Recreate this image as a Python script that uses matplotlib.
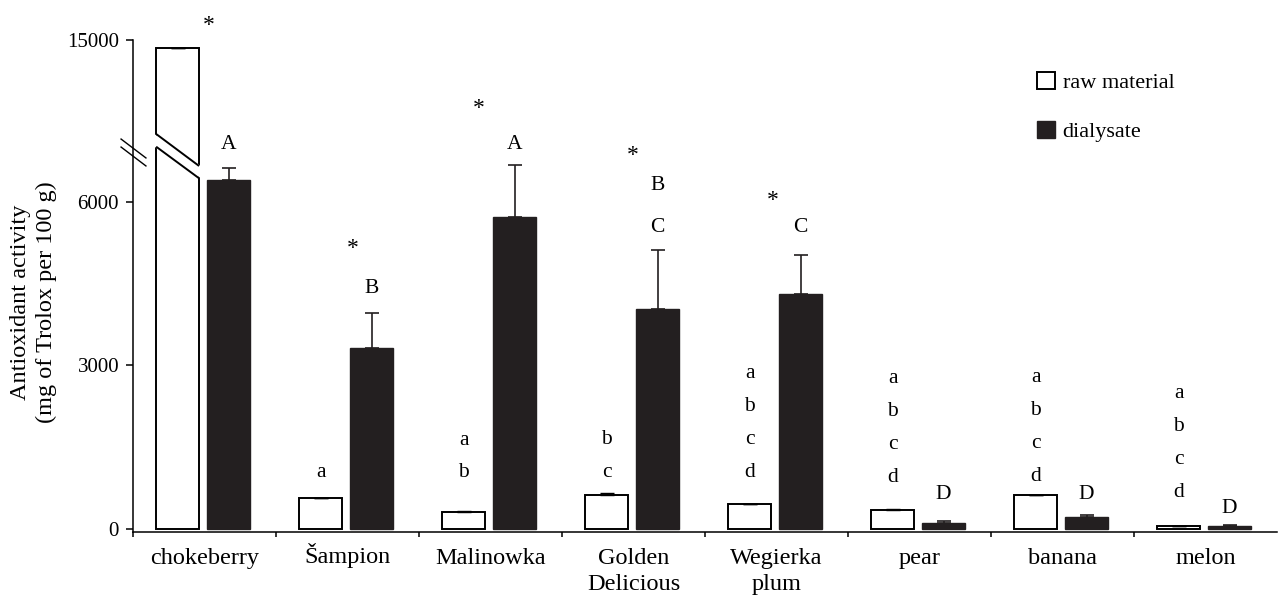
import matplotlib
matplotlib.use("Agg")
import matplotlib.pyplot as plt
from matplotlib.patches import Patch, Polygon
from matplotlib.path import Path
from matplotlib.transforms import ScaledTranslation
import numpy as np

plt.rcParams['font.family'] = ['Liberation Serif', 'DejaVu Serif']

# данные (мг тролокса на 100 г)
categories = ['chokeberry', 'Šampion', 'Malinowka', 'Golden\nDelicious',
              'Wegierka\nplum', 'pear', 'banana', 'melon']
raw = [14850, 560, 315, 620, 455, 345, 620, 50]
raw_err = [0, 15, 15, 36, 10, 22, 12, 8]
dial = [6407, 3327, 5719, 4042, 4317, 118, 222, 55]
dial_err = [220, 640, 960, 1077, 716, 30, 37, 10]

raw_letters = ['', 'a', 'ab', 'bc', 'abcd', 'abcd', 'abcd', 'abcd']
dial_letters = ['A', 'B', 'A', 'BC', 'C', 'D', 'D', 'D']
significant = [True, True, True, True, True, False, False, False]

# положения подписей (в единицах оси)
raw_letter_base = [0, 945, 945, 954, 954, 862, 880, 593]
dial_letter_base = [6967, 4325, 6967, 5455, 5455, 550, 550, 288]
star_y = [15166, 5046, 7620, 6752, 5927, 0, 0, 0]
star_dx = [0.031, 0.038, -0.080, -0.003, -0.024, 0, 0, 0]
raw_step, dial_step = 605, 765

# разрыв оси: 8000..14029 сжато
bx = [-1e4, 8000, 14029, 3e4]
by = [-1e4, 8000, 8001, 8001 + 3e4 - 14029]

def fwd(v):
  return np.interp(v, bx, by)

def inv(u):
  return np.interp(u, by, bx)

dark = '#231f20'

fig = plt.figure(figsize=(12.81, 5.98), dpi=100)
ax = fig.add_axes([133/1281, (598-531.5)/598, (1277-133)/1281, (531.5-10)/598])
ax.set_yscale('function', functions=(fwd, inv))

x = np.arange(len(categories))
w = 0.30
xr = x - 0.01 - 0.178
xd = x - 0.01 + 0.178

ax.bar(xr, raw, w, color='white', edgecolor='black', linewidth=1.4, zorder=2)
ax.bar(xd, dial, w, color=dark, edgecolor=dark, linewidth=1.0, zorder=2)
ax.errorbar(xr, raw, yerr=[np.zeros(len(raw)), raw_err], fmt='none',
            ecolor='black', elinewidth=1.0, capsize=4.7, capthick=1.0, zorder=4)
ax.errorbar(xd, dial, yerr=[np.zeros(len(dial)), dial_err], fmt='none',
            ecolor=dark, elinewidth=1.2, capsize=4.7, capthick=1.2, zorder=4)

# разрыв столбца chokeberry
lo = (7015, 6435)
hi = (7248, 6661)
l, r = xr[0] - w/2, xr[0] + w/2
e = 0.012
ax.add_patch(Polygon([(l - e, lo[0]), (r + e, lo[1]), (r + e, hi[1]), (l - e, hi[0])],
                     closed=True, facecolor='white', edgecolor='none', zorder=3))
ax.plot([l, r], [lo[0], lo[1]], color='black', lw=1.4, zorder=3.5, solid_capstyle='butt')
ax.plot([l, r], [hi[0], hi[1]], color='black', lw=1.4, zorder=3.5, solid_capstyle='butt')

# разрыв оси Y
brk = Path([(-1, 0.76), (1, -0.76)], [Path.MOVETO, Path.LINETO])
ax.plot([0, 0], [6999, 6853], linestyle='none', marker=brk, markersize=18.7,
        markeredgewidth=1.0, color='black', transform=ax.get_yaxis_transform(),
        clip_on=False, zorder=5)

# буквы и звездочки
for i in range(len(categories)):
  for k, ch in enumerate(reversed(raw_letters[i])):
    ax.text(xr[i], raw_letter_base[i] + k*raw_step, ch, ha='center', va='baseline',
            fontsize=15.5)
  for k, ch in enumerate(reversed(dial_letters[i])):
    ax.text(xd[i], dial_letter_base[i] + k*dial_step, ch, ha='center', va='baseline',
            fontsize=15.5)
  if significant[i]:
    ax.text(x[i] + star_dx[i], star_y[i], '*', ha='center', va='baseline',
            fontsize=17, clip_on=False)

ax.set_xlim(-0.5, 7.5)
ax.set_ylim(-46, 15551)
ax.set_yticks([0, 3000, 6000, 15000])
ax.set_yticklabels(['0', '3000', '6000', '15000'])
ax.set_xticks(x)
ax.set_xticklabels(categories, linespacing=1.3)
ax.set_xticks(np.arange(-0.5, 7.0, 1.0), minor=True)
ax.tick_params(axis='x', which='major', length=0, pad=12, labelsize=17.5)
ax.tick_params(axis='x', which='minor', direction='out', length=3.5, width=1.1)
ax.tick_params(axis='y', direction='out', length=5, width=1.1, pad=5, labelsize=15)

# Š выше строки — поднимаем подпись, чтобы базовая линия совпадала
lab = ax.get_xticklabels()[1]
lab.set_transform(lab.get_transform() + ScaledTranslation(0, 3.6/72, fig.dpi_scale_trans))

for s in ['top', 'right']:
  ax.spines[s].set_visible(False)
ax.spines['left'].set_bounds(-46, 15000)
ax.spines['left'].set_linewidth(1.1)
ax.spines['bottom'].set_linewidth(1.1)

fig.text(33.5/1281, 1 - 302/598, 'Antioxidant activity\n(mg of Trolox per 100 g)',
         rotation=90, ha='center', va='center', fontsize=17.5, linespacing=1.27)

handles = [Patch(facecolor='white', edgecolor='black', linewidth=1.4),
           Patch(facecolor=dark, edgecolor=dark)]
ax.legend(handles, ['raw material', 'dialysate'], loc='upper left',
          bbox_to_anchor=(1037/1281, 1 - 71.5/598), bbox_transform=fig.transFigure,
          frameon=False, borderpad=0, borderaxespad=0, handlelength=0.8,
          handleheight=0.8, handletextpad=0.35, labelspacing=1.25, fontsize=16)

fig.savefig('out.png', dpi=100)
